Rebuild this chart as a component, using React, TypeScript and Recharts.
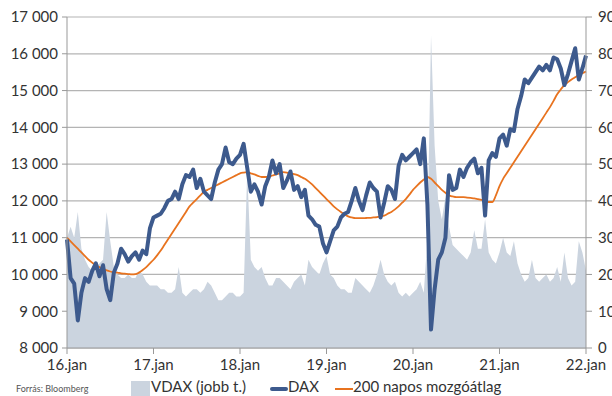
import React from 'react';
import { ComposedChart, Area, Line, XAxis, YAxis, CartesianGrid, Legend } from 'recharts';

// félhavi pontok, 2016.jan - 2022.jan
const yearLabels = ['16.jan', '17.jan', '18.jan', '19.jan', '20.jan', '21.jan', '22.jan'];

const dax = [
    10950, 9900, 9750, 8750, 9500, 9900, 9800, 10100, 10300, 9950, 10250, 9600,
    9300, 10050, 10300, 10700, 10550, 10350, 10500, 10600, 10400, 10650, 10550, 11250,
    11550, 11600, 11650, 11800, 12000, 12050, 12250, 12050, 12450, 12700, 12650, 12850,
    12350, 12600, 12250, 12150, 12050, 12500, 12850, 13000, 13450, 13050, 13000, 13150,
    13250, 13550, 12900, 12250, 12450, 12250, 11900, 12400, 12650, 13100, 12750, 13000,
    12350, 12550, 12800, 12300, 12400, 12100, 12300, 11600, 11500, 11350, 11300, 10850,
    10600, 10900, 11200, 11300, 11550, 11650, 11700, 12000, 12350, 12000, 11750, 12150,
    12500, 12350, 12250, 11550, 11950, 12400, 12300, 12050, 12950, 13250, 13100, 13200,
    13300, 13400, 13000, 13700, 11900, 8500, 9600, 10400, 10600, 11000, 12700, 12300,
    12350, 12850, 12650, 12900, 13050, 13150, 12750, 12900, 11600, 13100, 13300, 13200,
    13700, 13800, 13500, 13950, 13900, 14500, 14850, 15300, 15200, 15350, 15500, 15650,
    15550, 15700, 15550, 15900, 15850, 15600, 15150, 15450, 15800, 16150, 15300, 15600,
    15950,
];

const movingAvg = [
    11000, 10900, 10800, 10700, 10600, 10500, 10400, 10320, 10250, 10200, 10150, 10110,
    10080, 10060, 10050, 10030, 10020, 10010, 10000, 10010, 10050, 10120, 10200, 10300,
    10400, 10520, 10650, 10800, 10950, 11100, 11250, 11400, 11550, 11700, 11850, 11950,
    12050, 12150, 12250, 12300, 12350, 12400, 12450, 12500, 12550, 12600, 12650, 12700,
    12750, 12770, 12780, 12750, 12720, 12680, 12650, 12650, 12660, 12690, 12720, 12750,
    12780, 12770, 12750, 12730, 12700, 12650, 12600, 12530, 12450, 12350, 12250, 12150,
    12050, 11950, 11850, 11770, 11700, 11640, 11580, 11550, 11530, 11530, 11530, 11535,
    11540, 11550, 11560, 11580, 11600, 11650, 11700, 11770, 11850, 11950, 12050, 12170,
    12300, 12400, 12500, 12580, 12650, 12600, 12500, 12400, 12300, 12220, 12150, 12120,
    12100, 12100, 12100, 12090, 12080, 12070, 12050, 12030, 12000, 11970, 11970, 12150,
    12400, 12600, 12750, 12900, 13050, 13200, 13350, 13500, 13650, 13800, 13950, 14100,
    14250, 14400, 14550, 14720, 14900, 15030, 15150, 15230, 15300, 15360, 15420, 15470,
    15520,
];

const vdax = [
    30, 33, 30, 37, 27, 24, 22, 21, 22, 23, 24, 37,
    29, 22, 20, 19, 19, 20, 19, 19, 21, 20, 18, 17,
    17, 17, 16, 16, 15, 15, 16, 22, 15, 14, 15, 16,
    16, 15, 16, 18, 17, 15, 13, 13, 14, 15, 15, 14,
    14, 15, 48, 24, 22, 21, 22, 19, 17, 17, 19, 19,
    18, 17, 16, 18, 19, 20, 17, 24, 22, 21, 20, 23,
    25, 20, 19, 17, 16, 16, 15, 15, 19, 18, 17, 16,
    15, 17, 20, 24, 20, 18, 17, 18, 15, 14, 15, 14,
    15, 16, 18, 15, 30, 85, 55, 40, 35, 41, 33, 28,
    27, 26, 25, 24, 26, 32, 27, 27, 35, 26, 24, 23,
    26, 30, 26, 25, 29, 23, 20, 18, 19, 24, 19, 18,
    19, 20, 18, 19, 22, 18, 26, 19, 17, 18, 29, 26,
    21,
];

const leftTicks = [8000, 9000, 10000, 11000, 12000, 13000, 14000, 15000, 16000, 17000];
const rightTicks = [0, 10, 20, 30, 40, 50, 60, 70, 80, 90];
const monthTicks = [0, 12, 24, 36, 48, 60, 72];

const data = dax.map((v, i) => ({ t: i / 2, dax: v, ma: movingAvg[i], vdax: vdax[i] }));

const FONT = 'Lato, "Open Sans", sans-serif';
const DAX_COLOR = '#3d5a8d';
const MA_COLOR = '#e8731f';
const VDAX_COLOR = '#cbd4df';

const fmtThousands = (v: number) => `${Math.floor(v / 1000)} ${String(v % 1000).padStart(3, '0')}`;

const LegendBox = () => (
    <div style={{ position: 'relative', height: 20, width: 612, fontFamily: FONT, color: '#333' }}>
        <span style={{ position: 'absolute', left: 16, top: 7, fontSize: 9, color: '#555' }}>Forrás: Bloomberg</span>
        <span style={{ position: 'absolute', left: 131, top: 5, width: 19, height: 15, background: VDAX_COLOR }} />
        <span style={{ position: 'absolute', left: 151, top: 1, fontSize: 15 }}>VDAX (jobb t.)</span>
        <span style={{ position: 'absolute', left: 270, top: 11, width: 18, height: 4, background: DAX_COLOR, borderRadius: 2 }} />
        <span style={{ position: 'absolute', left: 288, top: 1, fontSize: 15 }}>DAX</span>
        <span style={{ position: 'absolute', left: 335, top: 12, width: 18, height: 2, background: MA_COLOR }} />
        <span style={{ position: 'absolute', left: 353, top: 1, fontSize: 15 }}>200 napos mozgóátlag</span>
    </div>
);

const App: React.FC = () => {
    const tickStyle = { fill: '#333', fontSize: 15, fontFamily: FONT };
    return (
        <div style={{ position: 'absolute', left: 0, top: 0, width: 612, height: 396, background: '#fff', overflow: 'hidden' }}>
            <ComposedChart width={612} height={396} data={data} margin={{ top: 17, right: 0, bottom: 0, left: 0 }}>
                <XAxis
                    dataKey="t"
                    type="number"
                    domain={[0, 72]}
                    ticks={monthTicks}
                    tickFormatter={(v: number) => yearLabels[v / 12]}
                    tick={tickStyle}
                    tickSize={6}
                    tickMargin={5}
                    height={28}
                    stroke="#999"
                    interval={0}
                />
                <YAxis
                    yAxisId="left"
                    domain={[8000, 17000]}
                    ticks={leftTicks}
                    tickFormatter={fmtThousands}
                    tick={tickStyle}
                    tickSize={5}
                    tickMargin={4}
                    width={67}
                    stroke="#999"
                    interval={0}
                />
                <YAxis
                    yAxisId="right"
                    orientation="right"
                    domain={[0, 90]}
                    ticks={rightTicks}
                    tick={tickStyle}
                    tickSize={6}
                    tickMargin={6}
                    width={26}
                    stroke="#999"
                    interval={0}
                />
                <Area
                    yAxisId="right"
                    dataKey="vdax"
                    type="linear"
                    stroke="none"
                    fill={VDAX_COLOR}
                    fillOpacity={1}
                    isAnimationActive={false}
                />
                <CartesianGrid yAxisId="left" vertical={false} stroke="#b4b4b4" strokeWidth={1.2} />
                <Line
                    yAxisId="left"
                    dataKey="ma"
                    type="monotone"
                    stroke={MA_COLOR}
                    strokeWidth={1.8}
                    dot={false}
                    isAnimationActive={false}
                />
                <Line
                    yAxisId="left"
                    dataKey="dax"
                    type="linear"
                    stroke={DAX_COLOR}
                    strokeWidth={4}
                    strokeLinejoin="round"
                    dot={false}
                    isAnimationActive={false}
                />
                <Legend verticalAlign="bottom" height={20} content={() => <LegendBox />} wrapperStyle={{ left: 0, width: 612 }} />
            </ComposedChart>
        </div>
    );
};

export default App;
